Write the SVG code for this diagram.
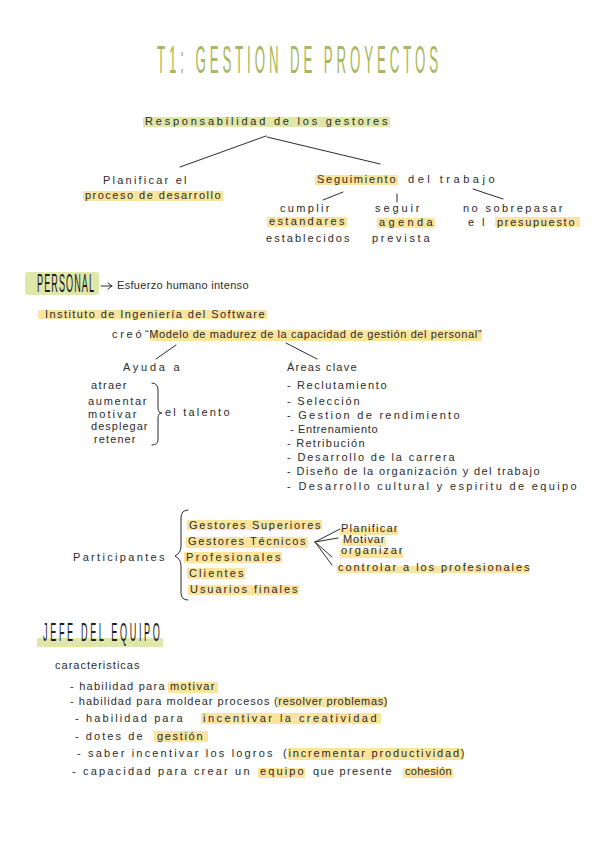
<svg xmlns="http://www.w3.org/2000/svg" width="600" height="848" viewBox="0 0 600 848">
<style>
.t{font-family:"Liberation Sans",Arial,sans-serif;font-size:11px;fill:#2b2b2b;letter-spacing:0.5px}
.h{font-family:"Liberation Sans",Arial,sans-serif;fill:#1e1e1e}
.y{fill:#fbe49c}
.g{fill:#dfe7a9}
.ln{stroke:#2b2b2b;stroke-width:1;fill:none;stroke-linecap:round}
</style>
<rect width="600" height="848" fill="#ffffff"/>
<g id="title">
<text transform="translate(157,73) scale(0.35,1)" x="0" y="0" font-family="Liberation Sans,Arial,sans-serif" font-size="38" fill="#a9b65a" textLength="803" lengthAdjust="spacing">T1: GESTION DE PROYECTOS</text>
</g>
<g id="connectors">
<line class="ln" x1="266" y1="136" x2="180" y2="167"/>
<line class="ln" x1="267" y1="137" x2="380" y2="164"/>
<line class="ln" x1="343" y1="192" x2="323" y2="200"/>
<line class="ln" x1="397" y1="194" x2="397" y2="202"/>
<line class="ln" x1="473" y1="189" x2="503" y2="199"/>
<line class="ln" x1="176" y1="345" x2="156" y2="359"/>
<line class="ln" x1="286" y1="343" x2="317" y2="359"/>
<path class="ln" d="M101 286 H112 M108 283 L112 286 L108 289"/>
<path class="ln" d="M152 383 Q158 383 158 390 V408 Q158 413 162 413 Q158 413 158 418 V440 Q158 445 152 445"/>
<path class="ln" d="M188 510 Q181 510 181 518 V546 Q181 553 175 556 Q181 559 181 566 V593 Q181 600 188 600"/>
<line class="ln" x1="315" y1="542" x2="340" y2="529"/>
<line class="ln" x1="315" y1="542" x2="338" y2="538"/>
<line class="ln" x1="315" y1="542" x2="332" y2="557"/>
<line class="ln" x1="315" y1="542" x2="332" y2="565"/>
</g>
<g id="responsabilidad">
<rect class="g" x="143" y="117" width="247" height="10" rx="1"/>
<text class="t" x="145" y="125" textLength="243">Responsabilidad de los gestores</text>
</g>
<g id="planificar">
<rect class="y" x="83" y="191" width="140" height="10" rx="1"/>
<text class="t" x="103" y="184" textLength="84">Planificar el</text>
<text class="t" x="85" y="199" textLength="136">proceso de desarrollo</text>
</g>
<g id="seguimiento">
<rect class="y" x="315" y="175" width="83" height="10" rx="1"/>
<text class="t" x="317" y="183" textLength="79">Seguimiento</text>
<text class="t" x="408" y="183" textLength="87">del trabajo</text>
</g>
<g id="cumplir">
<rect class="y" x="267" y="217" width="80" height="10" rx="1"/>
<text class="t" x="280" y="212" textLength="50">cumplir</text>
<text class="t" x="269" y="225" textLength="76">estandares</text>
<text class="t" x="266" y="242" textLength="84">establecidos</text>
</g>
<g id="seguir">
<rect class="y" x="377" y="218" width="58" height="10" rx="1"/>
<text class="t" x="375" y="212" textLength="45">seguir</text>
<text class="t" x="379" y="226" textLength="54">agenda</text>
<text class="t" x="372" y="242" textLength="58">prevista</text>
</g>
<g id="presupuesto">
<rect class="y" x="495" y="217" width="85" height="10" rx="1"/>
<text class="t" x="463" y="212" textLength="100">no sobrepasar</text>
<text class="t" x="468" y="226" textLength="17">el</text>
<text class="t" x="497" y="226" textLength="78">presupuesto</text>
</g>
<g id="personal">
<rect class="g" x="25" y="272" width="74" height="23" rx="3"/>
<text class="h" transform="translate(37,292) scale(0.35,1)" x="0" y="0" font-size="26" textLength="163" lengthAdjust="spacing">PERSONAL</text>
<text class="t" x="117" y="289" textLength="132">Esfuerzo humano intenso</text>
</g>
<g id="instituto">
<rect class="y" x="38" y="310" width="229" height="9" rx="1"/>
<text class="t" x="45" y="318" textLength="220">Instituto de Ingeniería del Software</text>
</g>
<g id="modelo">
<rect class="y" x="150" y="330" width="332" height="11" rx="1"/>
<text class="t" x="112" y="338" font-size="10" textLength="30">creó</text>
<text class="t" x="145" y="338" font-size="10" textLength="337">“Modelo de madurez de la capacidad de gestión del personal”</text>
</g>
<g id="ayuda">
<text class="t" x="123" y="371" textLength="57">Ayuda a</text>
<text class="t" x="91" y="389" textLength="36">atraer</text>
<text class="t" x="88" y="405" textLength="59">aumentar</text>
<text class="t" x="88" y="418" textLength="49">motivar</text>
<text class="t" x="91" y="430" textLength="57">desplegar</text>
<text class="t" x="94" y="443" textLength="42">retener</text>
<text class="t" x="165" y="416" textLength="65">el talento</text>
</g>
<g id="areas">
<text class="t" x="287" y="371" textLength="70">Áreas clave</text>
<text class="t" x="287" y="389" textLength="100">- Reclutamiento</text>
<text class="t" x="287" y="405" textLength="73">- Selección</text>
<text class="t" x="287" y="419" textLength="173">- Gestion de rendimiento</text>
<text class="t" x="290" y="433" textLength="88">- Entrenamiento</text>
<text class="t" x="287" y="447" textLength="78">- Retribución</text>
<text class="t" x="287" y="461" textLength="168">- Desarrollo de la carrera</text>
<text class="t" x="287" y="475" textLength="253">- Diseño de la organización y del trabajo</text>
<text class="t" x="287" y="490" textLength="290">- Desarrollo cultural y espiritu de equipo</text>
</g>
<g id="participantes">
<text class="t" x="73" y="561" textLength="92">Participantes</text>
<rect class="y" x="187" y="520" width="135" height="10" rx="1"/>
<text class="t" x="189" y="529" textLength="132">Gestores Superiores</text>
<rect class="y" x="186" y="537" width="122" height="11" rx="1"/>
<text class="t" x="188" y="545" textLength="118">Gestores Técnicos</text>
<rect class="y" x="184" y="552" width="98" height="11" rx="1"/>
<text class="t" x="186" y="561" textLength="95">Profesionales</text>
<rect class="y" x="187" y="568" width="58" height="11" rx="1"/>
<text class="t" x="189" y="577" textLength="55">Clientes</text>
<rect class="y" x="188" y="585" width="111" height="10" rx="1"/>
<text class="t" x="190" y="593" textLength="108">Usuarios finales</text>
</g>
<g id="funciones">
<rect class="y" x="340" y="528" width="58" height="7" rx="1"/>
<text class="t" x="341" y="532" textLength="57">Planificar</text>
<rect class="y" x="342" y="539" width="44" height="7" rx="1"/>
<text class="t" x="343" y="543" textLength="42">Motivar</text>
<rect class="y" x="340" y="550" width="63" height="8" rx="1"/>
<text class="t" x="341" y="554" textLength="62">organizar</text>
<rect class="y" x="337" y="566" width="193" height="7" rx="1"/>
<text class="t" x="338" y="571" textLength="192">controlar a los profesionales</text>
</g>
<g id="jefe">
<rect class="g" x="37" y="638" width="126" height="9" rx="1"/>
<text class="h" transform="translate(43,641) scale(0.35,1)" x="0" y="0" font-size="26" textLength="334" lengthAdjust="spacing">JEFE DEL EQUIPO</text>
</g>
<g id="caracteristicas">
<text class="t" x="55" y="669" textLength="85">caracteristicas</text>
<rect class="y" x="168" y="682" width="50" height="11" rx="1"/>
<text class="t" x="70" y="690" textLength="95">- habilidad para</text>
<text class="t" x="170" y="690" textLength="45">motivar</text>
<rect class="y" x="277" y="697" width="110" height="10" rx="1"/>
<text class="t" x="70" y="705" textLength="200">- habilidad para moldear procesos</text>
<text class="t" x="274" y="705" textLength="114">(resolver problemas)</text>
<rect class="y" x="201" y="713" width="180" height="11" rx="1"/>
<text class="t" x="75" y="722" textLength="108">- habilidad para</text>
<text class="t" x="203" y="722" textLength="174">incentivar la creatividad</text>
<rect class="y" x="154" y="731" width="54" height="11" rx="1"/>
<text class="t" x="75" y="740" textLength="68">- dotes de</text>
<text class="t" x="157" y="740" textLength="46">gestión</text>
<rect class="y" x="288" y="748" width="175" height="12" rx="1"/>
<text class="t" x="77" y="757" textLength="196">- saber incentivar los logros</text>
<text class="t" x="283" y="757" textLength="182">(incrementar productividad)</text>
<rect class="y" x="258" y="768" width="47" height="10" rx="1"/>
<rect class="y" x="403" y="768" width="50" height="10" rx="1"/>
<text class="t" x="72" y="775" textLength="178">- capacidad para crear un</text>
<text class="t" x="260" y="775" textLength="44">equipo</text>
<text class="t" x="313" y="775" textLength="79">que presente</text>
<text class="t" x="405" y="775" textLength="47">cohesión</text>
</g>
</svg>
